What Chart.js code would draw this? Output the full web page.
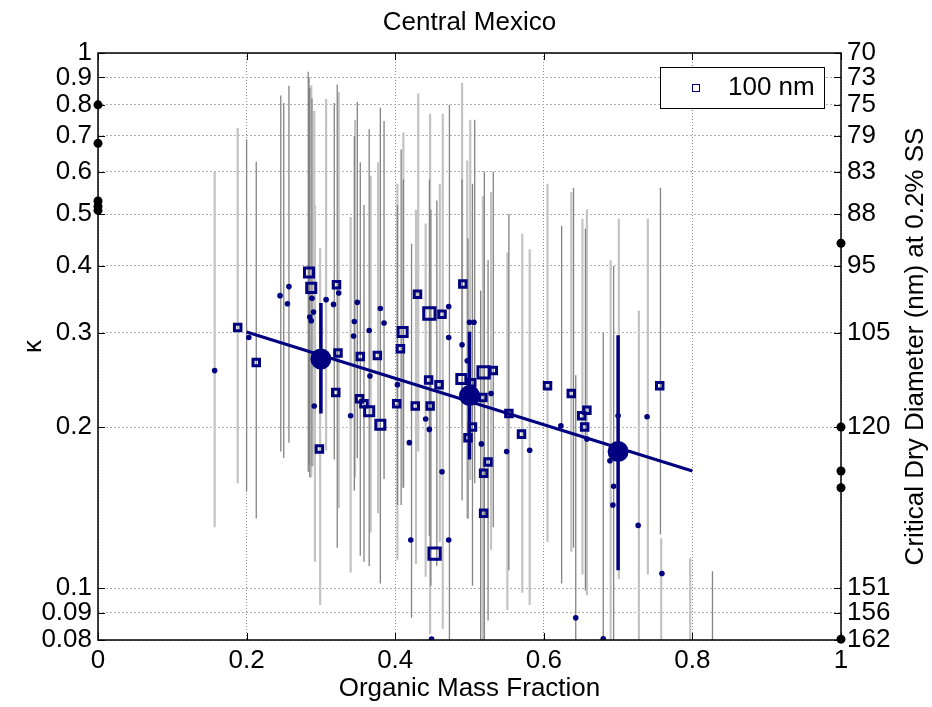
<!DOCTYPE html>
<html lang="en">
<head>
  <meta charset="UTF-8" />
  <title>Central Mexico</title>
  <script src="https://cdn.jsdelivr.net/npm/chart.js"></script>
  <style>
    html, body { margin: 0; padding: 0; background: #fff; }
    .chart-wrapper { width: 932px; height: 707px; }
  </style>
</head>
<body>
<div class="chart-wrapper">
  <canvas id="kappaChart"></canvas>
</div>

<script>
  // axis ticks
  const xTicks = [0, 0.2, 0.4, 0.6, 0.8, 1];
  const xLabels = ['0', '0.2', '0.4', '0.6', '0.8', '1'];
  const kappaTicks = [0.08, 0.09, 0.1, 0.2, 0.3, 0.4, 0.5, 0.6, 0.7, 0.8, 0.9, 1];
  const kappaLabels = ['0.08', '0.09', '0.1', '0.2', '0.3', '0.4', '0.5', '0.6', '0.7', '0.8', '0.9', '1'];
  const diameterLabels = ['162', '156', '151', '120', '105', '95', '88', '83', '79', '75', '73', '70'];

  // 100 nm squares (n = number of samples in the bin)
  const sqX = [0.188, 0.213, 0.284, 0.287, 0.321, 0.323, 0.320, 0.353, 0.376, 0.298, 0.352, 0.358, 0.365, 0.380, 0.402,
               0.430, 0.491, 0.446, 0.463, 0.410, 0.407, 0.427, 0.445, 0.459, 0.447, 0.489, 0.519, 0.532, 0.503, 0.518,
               0.504, 0.498, 0.570, 0.605, 0.637, 0.658, 0.651, 0.655, 0.756, 0.525, 0.519, 0.519, 0.453, 0.553];
  const sqK = [0.307, 0.264, 0.389, 0.364, 0.369, 0.275, 0.232, 0.271, 0.272, 0.182, 0.226, 0.221, 0.214, 0.202, 0.221,
               0.354, 0.370, 0.326, 0.325, 0.301, 0.280, 0.219, 0.245, 0.240, 0.219, 0.246, 0.253, 0.255, 0.242, 0.227,
               0.200, 0.191, 0.194, 0.239, 0.231, 0.215, 0.210, 0.200, 0.239, 0.172, 0.164, 0.138, 0.116, 0.212];
  const sqN = [1, 1, 2, 2, 1, 1, 1, 1, 1, 1, 1, 1, 2, 2, 1,
               1, 1, 3, 1, 2, 1, 1, 1, 1, 1, 2, 3, 1, 1, 1,
               1, 1, 1, 1, 1, 1, 1, 1, 1, 1, 1, 1, 3, 1];

  // other sizes (small dots)
  const dotX = [0.157, 0.203, 0.245, 0.257, 0.255, 0.285, 0.287, 0.288, 0.290, 0.307, 0.317, 0.324, 0.349, 0.345, 0.344,
                0.365, 0.380, 0.385, 0.366, 0.403, 0.291, 0.340, 0.419, 0.441, 0.446, 0.472, 0.472, 0.490, 0.500, 0.506,
                0.497, 0.516, 0.529, 0.463, 0.550, 0.581, 0.623, 0.658, 0.700, 0.739, 0.689, 0.694, 0.693, 0.727, 0.472,
                0.421, 0.759, 0.643, 0.449, 0.680];
  const dotK = [0.255, 0.294, 0.352, 0.366, 0.340, 0.321, 0.316, 0.348, 0.328, 0.346, 0.339, 0.356, 0.342, 0.315, 0.296,
                0.303, 0.333, 0.313, 0.249, 0.240, 0.219, 0.210, 0.187, 0.207, 0.198, 0.336, 0.294, 0.285, 0.314, 0.314,
                0.266, 0.186, 0.231, 0.165, 0.180, 0.181, 0.201, 0.190, 0.210, 0.209, 0.173, 0.155, 0.143, 0.131, 0.123,
                0.123, 0.1065, 0.088, 0.0803, 0.0804];

  // uncertainty ranges
  const lightX = [0.157, 0.188, 0.287, 0.291, 0.292, 0.299, 0.307, 0.324, 0.340, 0.346, 0.367, 0.377, 0.403, 0.411, 0.428,
                  0.431, 0.441, 0.447, 0.460, 0.464, 0.490, 0.497, 0.501, 0.518, 0.529, 0.551, 0.571, 0.581, 0.605, 0.637,
                  0.652, 0.658, 0.690, 0.701, 0.728, 0.740, 0.758, 0.797];
  const lightLo = [0.13, 0.157, 0.161, 0.169, 0.112, 0.093, 0.181, 0.141, 0.107, 0.161, 0.127, 0.138, 0.113, 0.154, 0.111,
                   0.18, 0.105, 0.082, 0.122, 0.084, 0.20, 0.135, 0.159, 0.08, 0.118, 0.091, 0.098, 0.093, 0.122, 0.117,
                   0.106, 0.097, 0.08, 0.104, 0.08, 0.106, 0.08, 0.08];
  const lightHi = [0.60, 0.724, 0.87, 0.78, 0.52, 0.432, 0.82, 0.845, 0.494, 0.75, 0.59, 0.625, 0.57, 0.71, 0.51,
                   0.84, 0.48, 0.77, 0.57, 0.77, 0.88, 0.63, 0.75, 0.54, 0.55, 0.424, 0.46, 0.43, 0.57, 0.55,
                   0.49, 0.51, 0.41, 0.49, 0.33, 0.49, 0.124, 0.114];
  const darkX = [0.200, 0.213, 0.246, 0.250, 0.257, 0.283, 0.284, 0.285, 0.288, 0.318, 0.322, 0.345, 0.349, 0.353, 0.358,
                 0.365, 0.380, 0.385, 0.403, 0.408, 0.411, 0.422, 0.446, 0.448, 0.456, 0.473, 0.490, 0.498, 0.504, 0.507,
                 0.515, 0.520, 0.525, 0.532, 0.553, 0.624, 0.640, 0.643, 0.656, 0.680, 0.694, 0.757, 0.827];
  const darkLo = [0.152, 0.135, 0.18, 0.175, 0.187, 0.165, 0.17, 0.161, 0.169, 0.174, 0.119, 0.152, 0.175, 0.115, 0.112,
                  0.110, 0.102, 0.16, 0.143, 0.143, 0.154, 0.088, 0.125, 0.101, 0.110, 0.08, 0.146, 0.135, 0.101, 0.157,
                  0.08, 0.08, 0.087, 0.13, 0.108, 0.102, 0.119, 0.08, 0.099, 0.08, 0.08, 0.126, 0.08];
  const darkHi = [0.69, 0.626, 0.833, 0.806, 0.869, 0.922, 0.90, 0.86, 0.823, 0.806, 0.873, 0.70, 0.81, 0.625, 0.52,
                  0.72, 0.79, 0.746, 0.52, 0.66, 0.58, 0.44, 0.58, 0.51, 0.53, 0.80, 0.58, 0.45, 0.57, 0.75,
                  0.36, 0.60, 0.41, 0.60, 0.50, 0.475, 0.56, 0.25, 0.47, 0.30, 0.40, 0.56, 0.1075];

  // binned means and fit
  const meanX = [0.3, 0.5, 0.7];
  const meanK = [0.268, 0.229, 0.18];
  const meanLo = [0.212, 0.174, 0.108];
  const meanHi = [0.341, 0.3015, 0.297];
  const fitX = [0.2, 0.8];
  const fitK = [0.301, 0.1655];

  // pure-component values on the edges
  const leftEdgeK = [0.8, 0.678, 0.529, 0.517, 0.508];
  const rightEdgeK = [0.441, 0.2, 0.1655, 0.154, 0.0803];

  const navy = '#000080';
  const fontFamily = '"Liberation Sans", Arial, Helvetica, sans-serif';

  function pairs(xs, ys) {
    return xs.map((x, i) => ({ x: x, y: ys[i] }));
  }
  // vertical segments separated by gaps
  function segments(xs, lo, hi) {
    const pts = [];
    xs.forEach((x, i) => {
      pts.push({ x: x, y: lo[i] }, { x: x, y: hi[i] }, { x: x, y: null });
    });
    return pts;
  }

  const frame = {
    id: 'frame',
    afterDraw(chart) {
      const { ctx, chartArea: a, scales } = chart;
      ctx.save();
      // inward tick marks
      ctx.strokeStyle = '#000';
      ctx.lineWidth = 1;
      ctx.beginPath();
      xTicks.forEach(v => {
        const px = Math.round(scales.x.getPixelForValue(v)) + 0.5;
        ctx.moveTo(px, a.bottom); ctx.lineTo(px, a.bottom - 7);
        ctx.moveTo(px, a.top); ctx.lineTo(px, a.top + 7);
      });
      kappaTicks.forEach(v => {
        const py = Math.round(scales.y.getPixelForValue(v)) + 0.5;
        ctx.moveTo(a.left, py); ctx.lineTo(a.left + 7, py);
        ctx.moveTo(a.right, py); ctx.lineTo(a.right - 7, py);
      });
      ctx.stroke();
      ctx.lineWidth = 1.5;
      ctx.strokeRect(a.left, a.top, a.right - a.left, a.bottom - a.top);

      // title
      ctx.fillStyle = '#000';
      ctx.font = '26px ' + fontFamily;
      ctx.textAlign = 'center';
      ctx.textBaseline = 'middle';
      ctx.fillText('Central Mexico', (a.left + a.right) / 2, 23);

      // legend box
      const lx = a.right - 181, ly = a.top + 14, lw = 164, lh = 41;
      ctx.fillStyle = '#fff';
      ctx.fillRect(lx, ly, lw, lh);
      ctx.lineWidth = 1;
      ctx.strokeStyle = '#000';
      ctx.strokeRect(lx + 0.5, ly + 0.5, lw, lh);
      ctx.strokeStyle = navy;
      ctx.strokeRect(lx + 32.5, ly + 17.5, 7, 7);
      ctx.fillStyle = '#000';
      ctx.textAlign = 'left';
      ctx.fillText('100 nm', lx + 68, ly + 21);

      // right axis title
      ctx.translate(916, (a.top + a.bottom) / 2);
      ctx.rotate(-Math.PI / 2);
      ctx.textAlign = 'center';
      ctx.fillText('Critical Dry Diameter (nm) at 0.2% SS', 0, 0);
      ctx.restore();
    }
  };

  Chart.defaults.font.family = fontFamily;
  Chart.defaults.font.size = 26;
  Chart.defaults.color = '#000';

  const config = {
    type: 'scatter',
    data: {
      datasets: [
        {
          label: 'edge',
          data: pairs(leftEdgeK.map(() => 0), leftEdgeK).concat(pairs(rightEdgeK.map(() => 1), rightEdgeK)),
          backgroundColor: '#000', pointBorderWidth: 0, pointRadius: 4.5, clip: false, order: 1
        },
        {
          label: 'mean',
          data: pairs(meanX, meanK),
          backgroundColor: navy, pointBorderWidth: 0, pointRadius: 10.5, order: 2
        },
        {
          label: 'mean range',
          data: segments(meanX, meanLo, meanHi),
          showLine: true, spanGaps: false, borderColor: navy, borderWidth: 3.5, pointRadius: 0, order: 3
        },
        {
          label: 'fit',
          data: pairs(fitX, fitK),
          showLine: true, borderColor: navy, borderWidth: 3, pointRadius: 0, order: 4
        },
        {
          label: '100 nm',
          data: pairs(sqX, sqK),
          pointStyle: 'rect',
          pointRadius: sqX.map((_, i) => [4.6, 6.4, 8][sqN[i] - 1]),
          pointBorderColor: navy, pointBorderWidth: 3, pointBackgroundColor: 'rgba(0,0,0,0)', order: 5
        },
        {
          label: 'other',
          data: pairs(dotX, dotK),
          pointBackgroundColor: navy, pointBorderWidth: 0, pointRadius: 2.8, order: 6
        },
        {
          label: 'range dark',
          data: segments(darkX, darkLo, darkHi),
          showLine: true, spanGaps: false, borderColor: '#838383', borderWidth: 1.3, pointRadius: 0, order: 7
        },
        {
          label: 'range light',
          data: segments(lightX, lightLo, lightHi),
          showLine: true, spanGaps: false, borderColor: '#c3c3c3', borderWidth: 2.2, pointRadius: 0, order: 8
        }
      ]
    },
    options: {
      responsive: true,
      maintainAspectRatio: false,
      animation: false,
      devicePixelRatio: 1,
      layout: { padding: { top: 53, left: 0, right: 0, bottom: 0 } },
      plugins: {
        legend: { display: false },
        title: { display: false },
        tooltip: { enabled: false }
      },
      scales: {
        x: {
          type: 'linear',
          min: 0, max: 1,
          afterBuildTicks: s => { s.ticks = xTicks.map(v => ({ value: v })); },
          afterFit: s => { s.height = 67; },
          ticks: { autoSkip: false, maxRotation: 0, padding: 5, callback: (v, i) => xLabels[i] },
          grid: { color: '#8c8c8c', lineWidth: 1, drawTicks: false },
          border: { display: false, dash: [1, 2] },
          title: { display: true, text: 'Organic Mass Fraction', padding: { top: 0, bottom: 3 } }
        },
        y: {
          type: 'logarithmic',
          position: 'left',
          min: 0.08, max: 1,
          afterBuildTicks: s => { s.ticks = kappaTicks.map(v => ({ value: v })); },
          afterFit: s => { s.width = 98; },
          ticks: { autoSkip: false, padding: 6, callback: (v, i) => kappaLabels[i] },
          grid: { color: '#b0b0b0', lineWidth: 1, drawTicks: false },
          border: { display: false, dash: [2, 2] },
          title: { display: true, text: 'κ', padding: { top: 18, bottom: 0 } }
        },
        y2: {
          type: 'logarithmic',
          position: 'right',
          min: 0.08, max: 1,
          afterBuildTicks: s => { s.ticks = kappaTicks.map(v => ({ value: v })); },
          afterFit: s => { s.width = 91; },
          ticks: { autoSkip: false, padding: 6, callback: (v, i) => diameterLabels[i] },
          grid: { drawOnChartArea: false, drawTicks: false },
          border: { display: false }
        }
      }
    },
    plugins: [frame]
  };

  const ctx = document.getElementById('kappaChart').getContext('2d');
  new Chart(ctx, config);
</script>
</body>
</html>
